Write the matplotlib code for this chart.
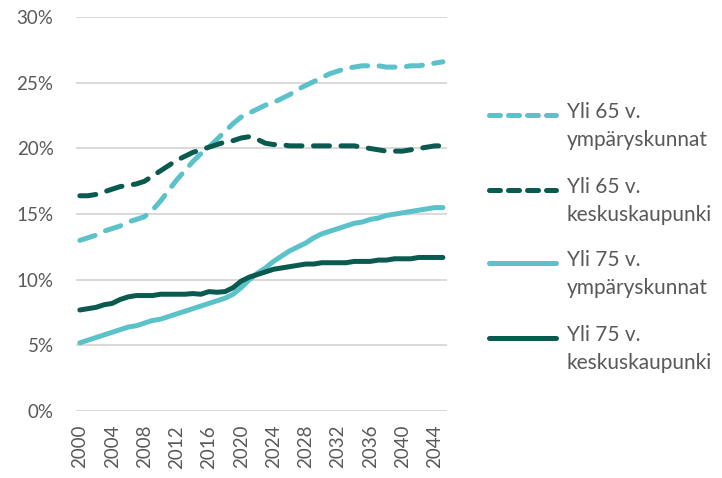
import matplotlib.pyplot as plt
from matplotlib.lines import Line2D
import numpy as np

plt.rcParams['font.family'] = ['Lato', 'DejaVu Sans']

years = list(range(2000, 2046))

# osuus väestöstä (%)
yli65_ymp = [13.0, 13.2, 13.4, 13.7, 13.9, 14.1, 14.4, 14.6, 14.8, 15.3,
             16.0, 16.8, 17.6, 18.3, 19.0, 19.6, 20.1, 20.7, 21.3, 21.9,
             22.4, 22.7, 23.0, 23.3, 23.5, 23.8, 24.1, 24.5, 24.8, 25.1,
             25.4, 25.7, 25.9, 26.1, 26.2, 26.3, 26.3, 26.3, 26.2, 26.2,
             26.2, 26.3, 26.3, 26.4, 26.5, 26.6]
yli65_kesk = [16.4, 16.4, 16.5, 16.7, 16.9, 17.1, 17.2, 17.3, 17.5, 17.9,
              18.3, 18.7, 19.1, 19.4, 19.7, 19.9, 20.1, 20.3, 20.5, 20.6,
              20.8, 20.9, 20.7, 20.4, 20.3, 20.3, 20.2, 20.2, 20.2, 20.2,
              20.2, 20.2, 20.2, 20.2, 20.2, 20.1, 20.0, 19.9, 19.8, 19.8,
              19.8, 19.9, 20.0, 20.1, 20.2, 20.2]
yli75_ymp = [5.2, 5.4, 5.6, 5.8, 6.0, 6.2, 6.4, 6.5, 6.7, 6.9,
             7.0, 7.2, 7.4, 7.6, 7.8, 8.0, 8.2, 8.4, 8.6, 8.9,
             9.4, 10.0, 10.5, 10.9, 11.4, 11.8, 12.2, 12.5, 12.8, 13.2,
             13.5, 13.7, 13.9, 14.1, 14.3, 14.4, 14.6, 14.7, 14.9, 15.0,
             15.1, 15.2, 15.3, 15.4, 15.5, 15.5]
yli75_kesk = [7.7, 7.8, 7.9, 8.1, 8.2, 8.5, 8.7, 8.8, 8.8, 8.8,
              8.9, 8.9, 8.9, 8.9, 8.95, 8.9, 9.1, 9.05, 9.1, 9.4,
              9.9, 10.2, 10.4, 10.6, 10.8, 10.9, 11.0, 11.1, 11.2, 11.2,
              11.3, 11.3, 11.3, 11.3, 11.4, 11.4, 11.4, 11.5, 11.5, 11.6,
              11.6, 11.6, 11.7, 11.7, 11.7, 11.7]

labels = ['Yli 65 v.\nympäryskunnat', 'Yli 65 v.\nkeskuskaupunki',
          'Yli 75 v.\nympäryskunnat', 'Yli 75 v.\nkeskuskaupunki']

light = '#5bc2ca'
dark = '#0a5a50'
grey = '#595959'

fig = plt.figure(figsize=(7.22, 4.78), dpi=100)
ax = fig.add_axes([0.105, 0.140, 0.514, 0.824])

x = np.arange(len(years))
dash = (3.2, 2.3)
series = [(yli65_ymp, light, dash), (yli65_kesk, dark, dash),
          (yli75_ymp, light, None), (yli75_kesk, dark, None)]
handles = []
for vals, col, ds in series:
    ln, = ax.plot(x, vals, color=col, lw=3.6, solid_capstyle='round',
                  dash_capstyle='round', solid_joinstyle='round')
    if ds:
        ln.set_dashes(ds)
    handles.append(ln)

ax.set_xlim(-0.5, len(years) - 0.5)
ax.set_ylim(0, 30)
ax.set_yticks(range(0, 31, 5))
ax.set_yticklabels(['%d%%' % v for v in range(0, 31, 5)])
ax.set_xticks(x[::4])
ax.set_xticklabels([str(y) for y in years[::4]], rotation=90)
ax.tick_params(length=0, labelsize=13.5, colors=grey)
ax.tick_params(axis='y', pad=16)
ax.tick_params(axis='x', pad=10)
ax.grid(axis='y', color='#d9d9d9', lw=1.4)
ax.set_axisbelow(True)
for s in ax.spines.values():
    s.set_visible(False)

# legend drawn by hand so the line sits on the first text row
ly = [115, 190, 263, 338]
for h, lab, yy in zip(handles, labels, ly):
    yf = 1 - yy / 478
    l = Line2D([489 / 722, 556 / 722], [yf, yf], transform=fig.transFigure,
               color=h.get_color(), lw=3.6, solid_capstyle='round',
               dash_capstyle='round')
    if h.get_linestyle() != '-':
        l.set_dashes((2.2, 1.6))
    fig.add_artist(l)
    fig.text(567 / 722, 1 - (yy - 13) / 478, lab, color=grey, fontsize=15,
             va='top', linespacing=1.5)

fig.savefig('out.png', dpi=100)
